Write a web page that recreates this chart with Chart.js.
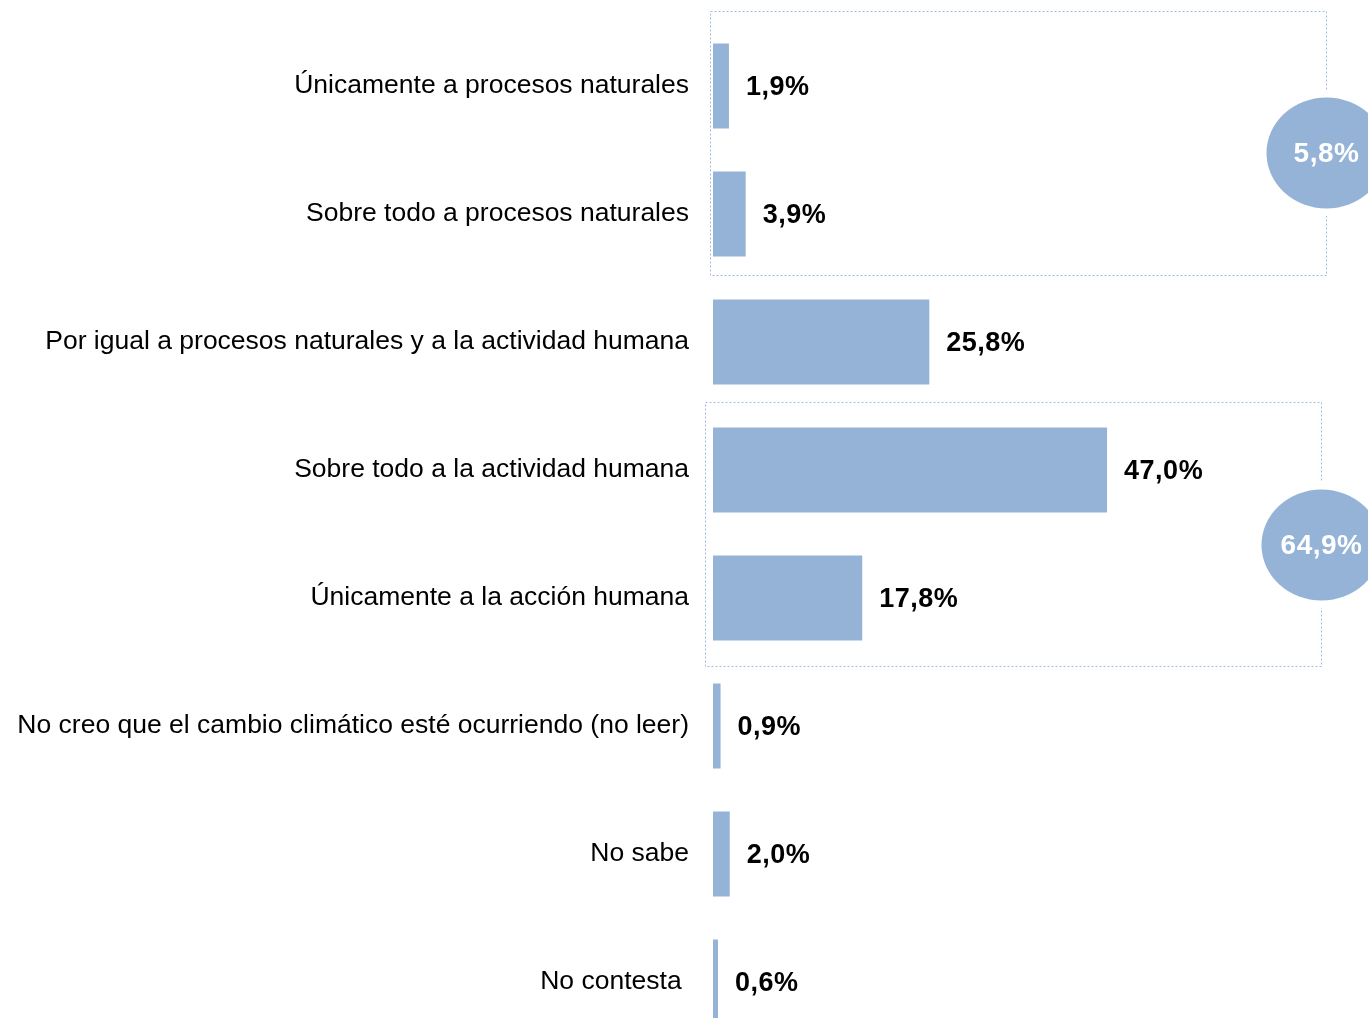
<!DOCTYPE html>
<html>
<head>
<meta charset="utf-8">
<script src="https://cdn.jsdelivr.net/npm/chart.js@4"></script>
<style>
  html, body { margin: 0; padding: 0; background: #fff; overflow: hidden; }
  #wrap { width: 1368px; height: 1018px; overflow: hidden; position: relative; }
  canvas { display: block; }
</style>
</head>
<body>
<div id="wrap"><canvas id="c" width="1368" height="1046"></canvas></div>
<script>
const categories = [
  "Únicamente a procesos naturales",
  "Sobre todo a procesos naturales",
  "Por igual a procesos naturales y a la actividad humana",
  "Sobre todo a la actividad humana",
  "Únicamente a la acción humana",
  "No creo que el cambio climático esté ocurriendo (no leer)",
  "No sabe",
  "No contesta "
];
const values = [1.9, 3.9, 25.8, 47.0, 17.8, 0.9, 2.0, 0.6];
const groupFirst = [0, 3];
const groupLast = [1, 4];
const groupTotals = [5.8, 64.9];

const BAR_COLOR = '#95B3D7';
const fmt = v => v.toFixed(1).replace('.', ',') + '%';

const valueLabels = {
  id: 'valueLabels',
  afterDatasetsDraw(chart) {
    const ctx = chart.ctx;
    const meta = chart.getDatasetMeta(0);
    ctx.save();
    ctx.font = 'bold 27px "Liberation Sans", Arial, sans-serif';
    ctx.letterSpacing = '0.5px';
    ctx.fillStyle = '#000';
    ctx.textAlign = 'left';
    ctx.textBaseline = 'middle';
    meta.data.forEach((bar, i) => {
      ctx.fillText(fmt(values[i]), bar.x + 17, bar.y + 1.5);
    });
    ctx.restore();
  }
};

const groupBoxes = {
  id: 'groupBoxes',
  afterDatasetsDraw(chart) {
    const ctx = chart.ctx;
    const y = chart.scales.y;
    const left = chart.chartArea.left;
    const boxStyle = [
      { dxL: -3, right: 1326, top: -75, bottom: 61, dy: 3 },
      { dxL: -8, right: 1321, top: -68, bottom: 68, dy: 11 }
    ];
    ctx.save();
    groupFirst.forEach((g, k) => {
      const s = boxStyle[k];
      const yTop = y.getPixelForValue(g) + s.top + 0.5;
      const yBot = y.getPixelForValue(groupLast[k]) + s.bottom + 0.5;
      const xL = left + s.dxL + 0.5;
      const xR = s.right + 0.5;
      const cy = (y.getPixelForValue(g) + y.getPixelForValue(groupLast[k])) / 2 + s.dy;
      ctx.strokeStyle = '#A3BBE0';
      ctx.lineWidth = 1;
      ctx.setLineDash([2, 2]);
      ctx.beginPath();
      ctx.moveTo(xL, yTop); ctx.lineTo(xR, yTop);
      ctx.lineTo(xR, yBot); ctx.lineTo(xL, yBot); ctx.closePath();
      ctx.stroke();
      ctx.setLineDash([]);
      ctx.fillStyle = '#fff';
      ctx.beginPath();
      ctx.ellipse(xR, cy, 65, 63, 0, 0, Math.PI * 2);
      ctx.fill();
      ctx.fillStyle = BAR_COLOR;
      ctx.beginPath();
      ctx.ellipse(xR, cy, 60, 55.5, 0, 0, Math.PI * 2);
      ctx.fill();
      ctx.fillStyle = '#fff';
      ctx.font = 'bold 28px "Liberation Sans", Arial, sans-serif';
      ctx.letterSpacing = '0.5px';
      ctx.textAlign = 'center';
      ctx.textBaseline = 'middle';
      ctx.fillText(fmt(groupTotals[k]), xR, cy + 1);
    });
    ctx.restore();
  }
};

new Chart(document.getElementById('c'), {
  type: 'bar',
  data: {
    labels: categories,
    datasets: [{
      data: values,
      backgroundColor: BAR_COLOR,
      borderWidth: 0,
      barPercentage: 0.664,
      categoryPercentage: 1
    }]
  },
  options: {
    indexAxis: 'y',
    responsive: false,
    devicePixelRatio: 1,
    animation: false,
    layout: { padding: { top: 22, bottom: 0, left: 0, right: 1 } },
    plugins: { legend: { display: false }, tooltip: { enabled: false } },
    scales: {
      x: { display: false, min: 0, max: 78 },
      y: {
        grid: { display: false, drawTicks: false },
        border: { display: false },
        ticks: {
          color: '#000',
          padding: 24,
          font: { family: '"Liberation Sans", Arial, sans-serif', size: 26.5 }
        },
        afterFit(scale) {
          scale.width = 713;
          scale.paddingTop = 0;
          scale.paddingBottom = 0;
        }
      }
    }
  },
  plugins: [groupBoxes, valueLabels]
});
</script>
</body>
</html>
